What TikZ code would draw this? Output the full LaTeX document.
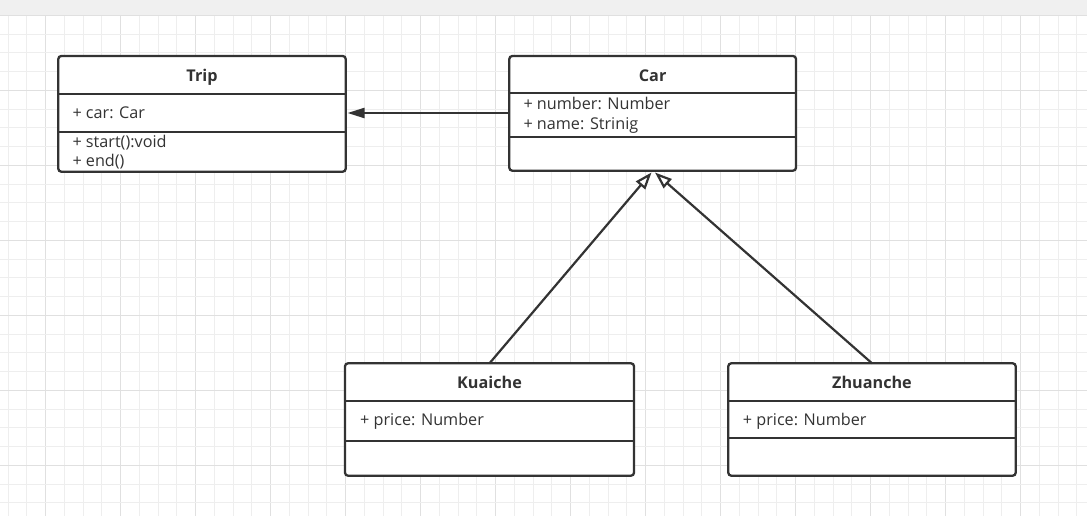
\documentclass[tikz,border=0pt]{standalone}
\usepackage{fontspec}
\setmainfont{Open Sans}
\usetikzlibrary{arrows.meta,calc}
\definecolor{ink}{HTML}{333333}
\definecolor{gridminor}{HTML}{EEEEEE}
\definecolor{gridmajor}{HTML}{E0E0E0}
\definecolor{band}{HTML}{F0F0F0}
\tikzset{
  classbox/.style={draw=ink, line width=2.3pt, rounded corners=3pt, fill=white, inner sep=0pt, outer sep=0pt},
  divider/.style={draw=ink, line width=2.3pt},
  title/.style={font=\fontsize{16.2}{18}\selectfont\bfseries, text=ink, anchor=base, inner sep=0pt},
  attr/.style={font=\fontsize{16.2}{18}\selectfont, text=ink, anchor=base west, inner sep=0pt},
  assoc/.style={draw=ink, line width=2.2pt, -{Triangle[length=17pt,width=10pt]}},
  inherit/.style={draw=ink, line width=2.2pt, -{Triangle[open,length=17pt,width=12pt,fill=white]}},
}
\begin{document}
\begin{tikzpicture}[x=1pt,y=-1pt]
\useasboundingbox (0,0) rectangle (1087,516);
\fill[white] (0,0) rectangle (1087,516);
% grid
\foreach \i in {0,...,57}{
  \pgfmathsetmacro{\xx}{8.2+18.75*\i}
  \pgfmathtruncatemacro{\mm}{mod(\i+2,4)}
  \ifnum\mm=0
    \draw[gridmajor, line width=1pt] (\xx,15) -- (\xx,516);
  \else
    \draw[gridminor, line width=1pt] (\xx,15) -- (\xx,516);
  \fi
}
\foreach \j in {0,...,27}{
  \pgfmathsetmacro{\yy}{15.3+18.75*\j}
  \pgfmathtruncatemacro{\mm}{mod(\j,4)}
  \ifnum\mm=0
    \draw[gridmajor, line width=1pt] (0,\yy) -- (1087,\yy);
  \else
    \draw[gridminor, line width=1pt] (0,\yy) -- (1087,\yy);
  \fi
}
\fill[band] (0,0) rectangle (1087,15);

% Trip
\node[classbox, minimum width=287.4pt, minimum height=115.7pt] (trip) at (202,113.85) {};
\draw[divider] (58.3,94) -- (345.7,94);
\draw[divider] (58.3,131.7) -- (345.7,131.7);
\node[title] (tripT) at (202,81.5) {Trip};
\node[attr] (tripA) at (72.3,119) {+ car: Car};
\node[attr] (tripM1) at (72.3,147) {+ start():void};
\node[attr] (tripM2) at (72.3,166.5) {+ end()};

% Car
\node[classbox, minimum width=286.7pt, minimum height=114.7pt] (car) at (652.65,113.35) {};
\draw[divider] (509.3,93.3) -- (796,93.3);
\draw[divider] (509.3,137.3) -- (796,137.3);
\node[title] (carT) at (652.65,81.3) {Car};
\node[attr] (carA1) at (523.3,109.3) {+ number: Number};
\node[attr] (carA2) at (523.3,130) {+ name: Strinig};

% Kuaiche
\node[classbox, minimum width=289pt, minimum height=112.4pt] (kuai) at (489.5,419.5) {};
\draw[divider] (345,401) -- (634,401);
\draw[divider] (345,441) -- (634,441);
\node[title] (kuaiT) at (489.5,388.3) {Kuaiche};
\node[attr] (kuaiA) at (360,425.5) {+ price: Number};

% Zhuanche
\node[classbox, minimum width=287.4pt, minimum height=112.4pt] (zhuan) at (872,419.5) {};
\draw[divider] (728.3,401) -- (1015.7,401);
\draw[divider] (728.3,438.3) -- (1015.7,438.3);
\node[title] (zhuanT) at (872,388.3) {Zhuanche};
\node[attr] (zhuanA) at (742.7,425.5) {+ price: Number};

% connectors
\coordinate (carL) at (car.west |- 0,113);
\coordinate (tripR) at (347.5,113);
\draw[assoc] (carL) -- (tripR);
\coordinate (carB1) at (651.5,172.5);
\coordinate (carB2) at (655,172.5);
\draw[inherit] (kuai.north) -- (carB1);
\draw[inherit] (zhuan.north) -- (carB2);
\end{tikzpicture}
\end{document}
